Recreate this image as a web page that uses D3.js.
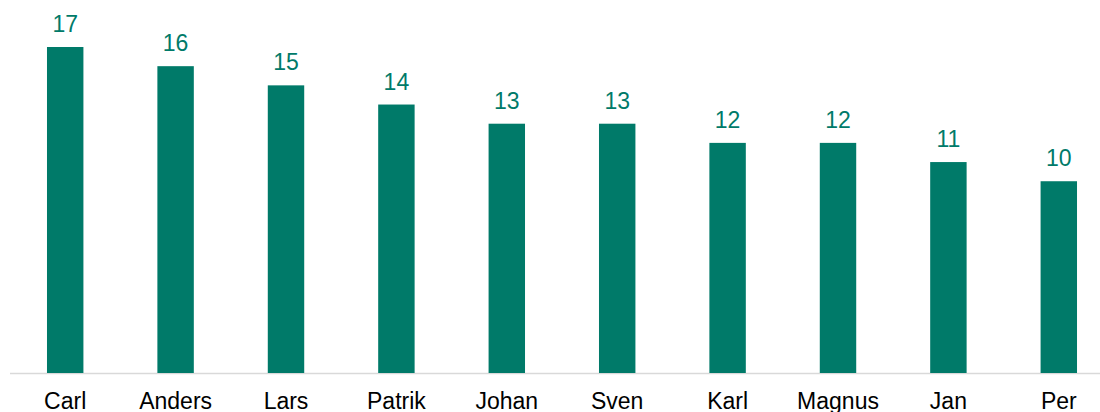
<!DOCTYPE html>
<html>
<head>
<meta charset="utf-8">
<script src="https://cdn.jsdelivr.net/npm/d3@7"></script>
<style>
  body { margin: 0; background: #fff; }
  text { font-family: Arial, 'Liberation Sans', sans-serif; }
</style>
</head>
<body>
<div id="graf"></div>
<script>
const names = ['Carl', 'Anders', 'Lars', 'Patrik', 'Johan', 'Sven', 'Karl', 'Magnus', 'Jan', 'Per']
const counts = [17, 16, 15, 14, 13, 13, 12, 12, 11, 10]

const anchoTotal = 1100
const altoTotal = 412
const base = 373
const barColor = '#007A69'

const svg = d3.select('#graf')
  .append('svg')
  .attr('width', anchoTotal)
  .attr('height', altoTotal)

const data = names.map((n, i) => ({ name: n, value: counts[i] }))

const x = d3.scaleBand()
  .domain(names)
  .range([10, 1114])
  .paddingInner(0.67)
  .paddingOuter(0.335)

const y = d3.scaleLinear()
  .domain([0, 17])
  .range([base, 47])

// baseline
svg.append('line')
  .attr('x1', 10)
  .attr('x2', anchoTotal)
  .attr('y1', base + 0.5)
  .attr('y2', base + 0.5)
  .attr('stroke', '#d9d9d9')
  .attr('stroke-width', 1.3)

svg.selectAll('rect.bar')
  .data(data)
  .enter()
  .append('rect')
  .attr('class', 'bar')
  .attr('x', d => x(d.name))
  .attr('width', x.bandwidth())
  .attr('y', d => y(d.value))
  .attr('height', d => base - y(d.value))
  .attr('fill', barColor)

svg.selectAll('text.val')
  .data(data)
  .enter()
  .append('text')
  .attr('class', 'val')
  .attr('x', d => x(d.name) + x.bandwidth() / 2)
  .attr('y', d => y(d.value) - 15)
  .attr('text-anchor', 'middle')
  .attr('font-size', 23)
  .attr('fill', barColor)
  .text(d => d.value)

const xAxis = svg.append('g')
  .attr('transform', `translate(0, ${base})`)
  .call(d3.axisBottom(x).tickSize(0).tickPadding(0))

xAxis.select('.domain').remove()
xAxis.selectAll('text')
  .attr('y', 36)
  .attr('dy', 0)
  .attr('font-size', 23)
  .attr('font-family', 'Arial, Liberation Sans, sans-serif')
  .attr('fill', '#000')
</script>
</body>
</html>
